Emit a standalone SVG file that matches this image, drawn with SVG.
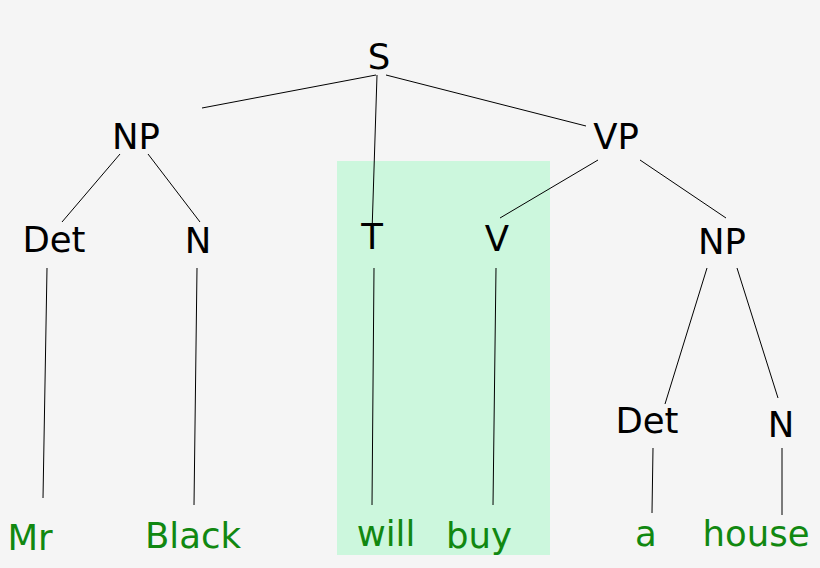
<svg xmlns="http://www.w3.org/2000/svg" width="820" height="568" viewBox="0 0 820 568">
<style>
text{font-family:"DejaVu Sans",sans-serif;font-size:35.5px;text-anchor:middle}
.n{fill:#000}
.w{fill:#118811}
#edges line{stroke:#000;stroke-width:1}
</style>
<rect width="820" height="568" fill="#f5f5f5"/>
<rect x="337" y="161" width="213" height="394" fill="#ccf7dd"/>
<g id="edges">
<line x1="376" y1="75" x2="202" y2="108"/>
<line x1="377" y1="75" x2="372" y2="232"/>
<line x1="386" y1="75" x2="586" y2="126"/>
<line x1="120" y1="154" x2="62" y2="222"/>
<line x1="148" y1="154" x2="200" y2="222"/>
<line x1="598" y1="160" x2="500" y2="218"/>
<line x1="640" y1="160" x2="726" y2="218"/>
<line x1="47" y1="268" x2="43" y2="498"/>
<line x1="197" y1="268" x2="194" y2="505"/>
<line x1="374" y1="268" x2="372" y2="505"/>
<line x1="496" y1="268" x2="493" y2="505"/>
<line x1="707" y1="268" x2="665" y2="404"/>
<line x1="737" y1="268" x2="778" y2="398"/>
<line x1="653" y1="448" x2="652" y2="513"/>
<line x1="782" y1="448" x2="782" y2="515"/>
</g>
<g id="S"><text class="n" x="379" y="69">S</text></g>
<g id="NP1"><text class="n" x="136" y="149">NP</text></g>
<g id="VP"><text class="n" x="616" y="149">VP</text></g>
<g id="Det1"><text class="n" x="54" y="252">Det</text></g>
<g id="N1"><text class="n" x="198" y="253">N</text></g>
<g id="T"><text class="n" x="372" y="249">T</text></g>
<g id="V"><text class="n" x="497" y="251">V</text></g>
<g id="NP2"><text class="n" x="722" y="254">NP</text></g>
<g id="Det2"><text class="n" x="647" y="433">Det</text></g>
<g id="N2"><text class="n" x="781" y="437">N</text></g>
<g id="w-Mr"><text class="w" x="30" y="550">Mr</text></g>
<g id="w-Black"><text class="w" x="193" y="548">Black</text></g>
<g id="w-will"><text class="w" x="386" y="546">will</text></g>
<g id="w-buy"><text class="w" x="479" y="548">buy</text></g>
<g id="w-a"><text class="w" x="646" y="546">a</text></g>
<g id="w-house"><text class="w" x="756" y="546">house</text></g>
</svg>
